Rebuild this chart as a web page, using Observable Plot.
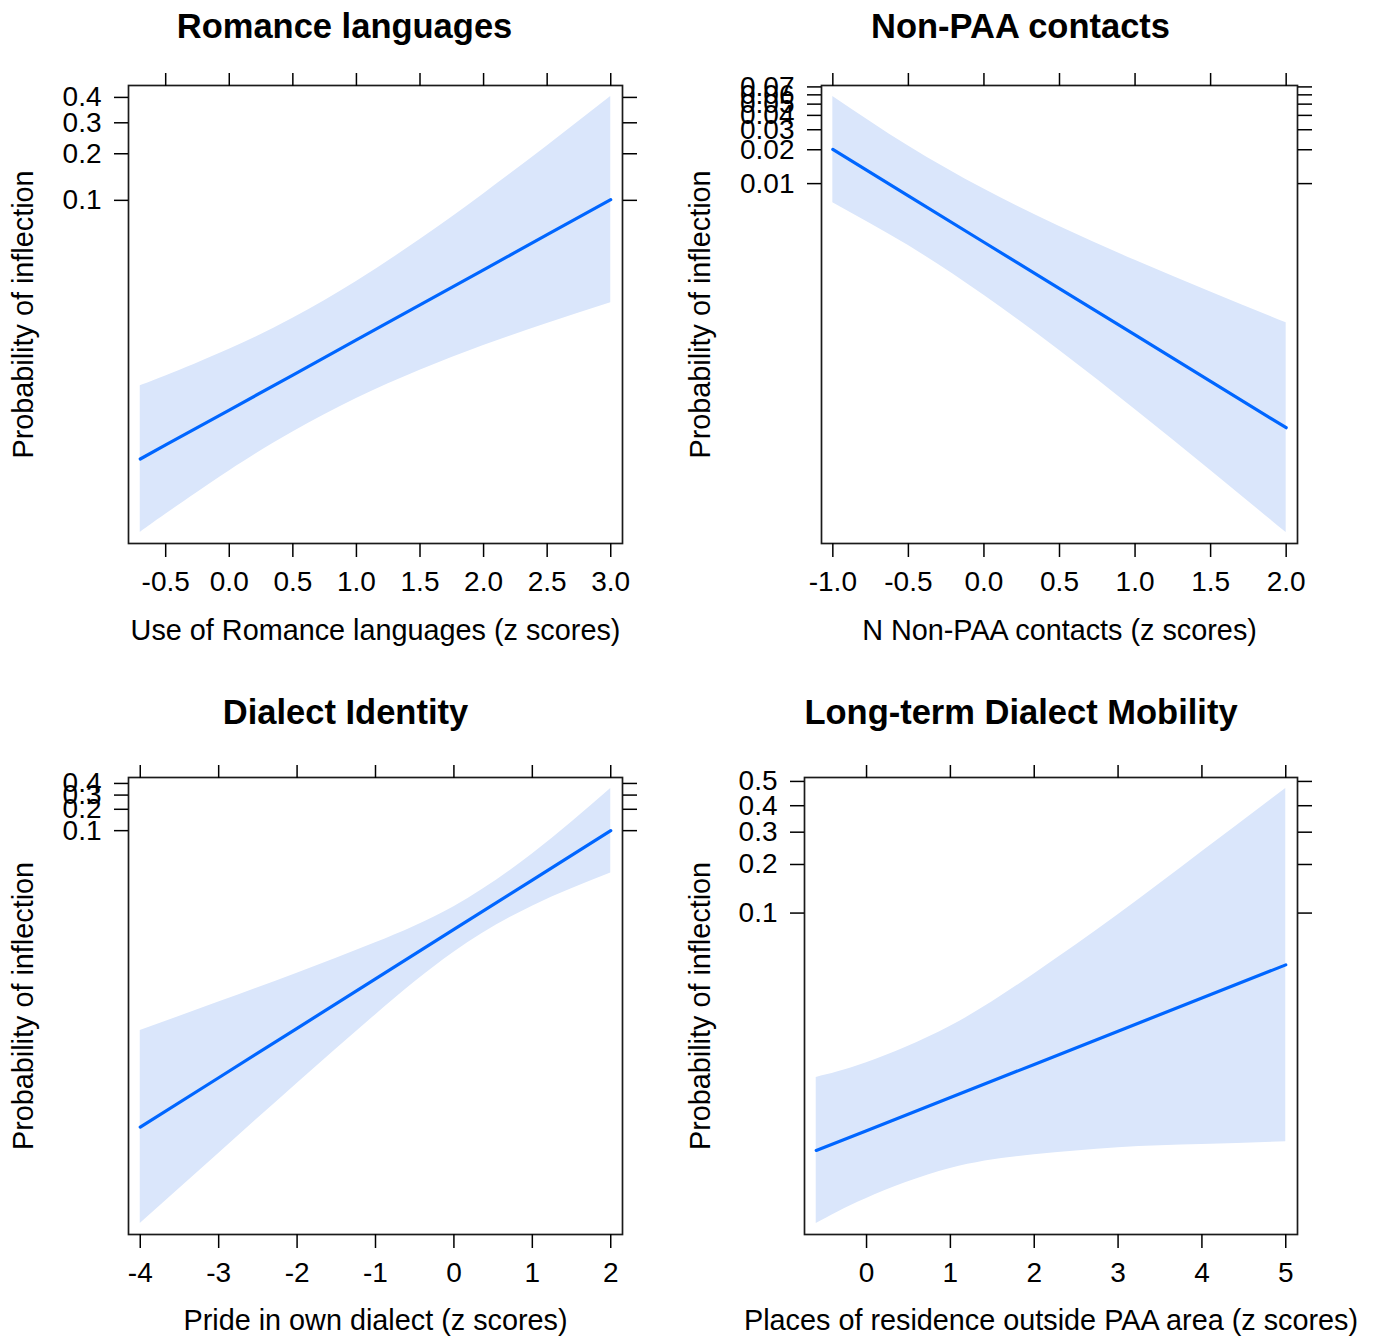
<!DOCTYPE html>
<html><head><meta charset="utf-8">
<script src="https://cdn.jsdelivr.net/npm/d3@7"></script>
<script src="https://cdn.jsdelivr.net/npm/@observablehq/plot@0.6"></script>
<style>
html,body{margin:0;padding:0;background:#fff;}
#chart{position:relative;width:1375px;height:1336px;overflow:hidden;font-family:"Liberation Sans",Arial,Helvetica,sans-serif;}
#chart svg{position:absolute;}
</style></head><body><div id="chart"></div>
<script>
// ---- text ----
const titles = ["Romance languages", "Non-PAA contacts", "Dialect Identity", "Long-term Dialect Mobility"];
const xLabels = ["Use of Romance languages (z scores)", "N Non-PAA contacts (z scores)", "Pride in own dialect (z scores)", "Places of residence outside PAA area (z scores)"];
const yLabel = "Probability of inflection";

// ---- panel 1: Romance languages ----
const romanceX     = [-0.7, -0.5, 0, 0.5, 1, 1.5, 2, 2.5, 3];
const romanceFit   = [0.00123, 0.00157, 0.00288, 0.00528, 0.00969, 0.0177, 0.0321, 0.0576, 0.1011];
const romanceUpper = [0.00439, 0.00519, 0.00824, 0.0141, 0.0264, 0.0532, 0.1105, 0.2227, 0.4042];
const romanceLower = [0.000342, 0.000470, 0.00100, 0.00197, 0.00352, 0.00574, 0.00879, 0.01287, 0.01832];
const romanceXTicks = [-0.5, 0, 0.5, 1, 1.5, 2, 2.5, 3];
const romanceXTickLabels = ["-0.5", "0.0", "0.5", "1.0", "1.5", "2.0", "2.5", "3.0"];
const romanceYTicks = [0.1, 0.2, 0.3, 0.4];
const romanceYTickLabels = ["0.1", "0.2", "0.3", "0.4"];

// ---- panel 2: Non-PAA contacts ----
const contactsX     = [-1, -0.5, 0, 0.5, 1, 1.5, 2];
const contactsFit   = [0.02012, 0.00778, 0.00298, 0.00114, 0.000436, 0.000166, 0.0000635];
const contactsUpper = [0.0582, 0.02157, 0.00894, 0.00412, 0.00205, 0.00106, 0.000561];
const contactsLower = [0.00676, 0.00278, 0.000992, 0.000315, 0.0000928, 0.0000261, 0.00000719];
const contactsXTicks = [-1, -0.5, 0, 0.5, 1, 1.5, 2];
const contactsXTickLabels = ["-1.0", "-0.5", "0.0", "0.5", "1.0", "1.5", "2.0"];
const contactsYTicks = [0.01, 0.02, 0.03, 0.04, 0.05, 0.06, 0.07];
const contactsYTickLabels = ["0.01", "0.02", "0.03", "0.04", "0.05", "0.06", "0.07"];

// ---- panel 3: Dialect Identity ----
const identityX     = [-4, -3, -2, -1, 0, 1, 2];
const identityFit   = [1.44e-6, 9.39e-6, 6.13e-5, 0.000400, 0.00261, 0.01675, 0.1];
const identityUpper = [5.62e-5, 0.000166, 0.000497, 0.00157, 0.00616, 0.0438, 0.356];
const identityLower = [3.70e-8, 5.32e-7, 7.56e-6, 0.000102, 0.00110, 0.00629, 0.02183];
const identityXTicks = [-4, -3, -2, -1, 0, 1, 2];
const identityXTickLabels = ["-4", "-3", "-2", "-1", "0", "1", "2"];
const identityYTicks = [0.1, 0.2, 0.3, 0.4];
const identityYTickLabels = ["0.1", "0.2", "0.3", "0.4"];

// ---- panel 4: Long-term Dialect Mobility ----
const mobilityX     = [-0.6, 0, 1, 2, 3, 4, 5];
const mobilityFit   = [0.00211, 0.00293, 0.00509, 0.00881, 0.01524, 0.0262, 0.0447];
const mobilityUpper = [0.00710, 0.00904, 0.01650, 0.0387, 0.0975, 0.236, 0.471];
const mobilityLower = [0.000623, 0.000948, 0.00156, 0.00196, 0.00221, 0.00233, 0.00244];
const mobilityXTicks = [0, 1, 2, 3, 4, 5];
const mobilityXTickLabels = ["0", "1", "2", "3", "4", "5"];
const mobilityYTicks = [0.1, 0.2, 0.3, 0.4, 0.5];
const mobilityYTickLabels = ["0.1", "0.2", "0.3", "0.4", "0.5"];

// ---- style ----
const FONT = '"Liberation Sans", Arial, Helvetica, sans-serif';
const LINE = "#0066ff";
const BAND = "#dae6fb";

const logit = p => Math.log(p / (1 - p));

const panels = [
  {title: titles[0], xLabel: xLabels[0], x: romanceX, fit: romanceFit, upper: romanceUpper, lower: romanceLower,
   xTicks: romanceXTicks, xTickLabels: romanceXTickLabels, yTicks: romanceYTicks, yTickLabels: romanceYTickLabels,
   L: {left: 0, top: 0, width: 688, height: 668, mL: 128, mR: 66, mT: 85, mB: 125, titleDx: -31, titleDy: -59, yLabDx: -105, xLabDy: 87}},
  {title: titles[1], xLabel: xLabels[1], x: contactsX, fit: contactsFit, upper: contactsUpper, lower: contactsLower,
   xTicks: contactsXTicks, xTickLabels: contactsXTickLabels, yTicks: contactsYTicks, yTickLabels: contactsYTickLabels,
   L: {left: 688, top: 0, width: 687, height: 668, mL: 133, mR: 78, mT: 85, mB: 125, titleDx: -39, titleDy: -59, yLabDx: -121, xLabDy: 87}},
  {title: titles[2], xLabel: xLabels[2], x: identityX, fit: identityFit, upper: identityUpper, lower: identityLower,
   xTicks: identityXTicks, xTickLabels: identityXTickLabels, yTicks: identityYTicks, yTickLabels: identityYTickLabels,
   L: {left: 0, top: 668, width: 688, height: 668, mL: 128, mR: 66, mT: 109, mB: 102, titleDx: -30, titleDy: -65, yLabDx: -105, xLabDy: 86}},
  {title: titles[3], xLabel: xLabels[3], x: mobilityX, fit: mobilityFit, upper: mobilityUpper, lower: mobilityLower,
   xTicks: mobilityXTicks, xTickLabels: mobilityXTickLabels, yTicks: mobilityYTicks, yTickLabels: mobilityYTickLabels,
   L: {left: 688, top: 668, width: 687, height: 668, mL: 116, mR: 78, mT: 109, mB: 102, titleDx: -30, titleDy: -65, yLabDx: -104, xLabDy: 86}}
];

const chart = document.getElementById("chart");

for (const pn of panels) {
  const L = pn.L;
  const rows = pn.x.map((x, i) => ({x, fit: logit(pn.fit[i]), lo: logit(pn.lower[i]), hi: logit(pn.upper[i])}));
  const xmin = d3.min(pn.x), xmax = d3.max(pn.x);
  const xpad = 0.025 * (xmax - xmin);
  const ymin = d3.min(rows, d => d.lo), ymax = d3.max(rows, d => d.hi);
  const ypad = 0.025 * (ymax - ymin);
  const yTickVals = pn.yTicks.map(logit);
  const yFmt = new Map(yTickVals.map((v, i) => [v, pn.yTickLabels[i]]));
  const xFmt = new Map(pn.xTicks.map((v, i) => [v, pn.xTickLabels[i]]));

  const svg = Plot.plot({
    width: L.width, height: L.height,
    marginLeft: L.mL, marginRight: L.mR, marginTop: L.mT, marginBottom: L.mB,
    style: {fontFamily: FONT, fontSize: "28px", background: "transparent", color: "#000", overflow: "visible"},
    x: {type: "linear", domain: [xmin - xpad, xmax + xpad]},
    y: {type: "linear", domain: [ymin - ypad, ymax + ypad]},
    marks: [
      Plot.areaY(rows, {x: "x", y1: "lo", y2: "hi", fill: BAND, curve: "natural"}),
      Plot.line(rows, {x: "x", y: "fit", stroke: LINE, strokeWidth: 3.2}),
      Plot.frame({stroke: "#1a1a1a", strokeWidth: 1.7}),
      Plot.axisX({anchor: "bottom", ticks: pn.xTicks, tickSize: 14, tickPadding: 14, tickFormat: v => xFmt.get(v), label: null, fontSize: 28, strokeWidth: 1.5}),
      Plot.axisX({anchor: "top", ticks: pn.xTicks, tickSize: 13, tickFormat: () => "", fill: "none", label: null, strokeWidth: 1.5}),
      Plot.axisY({anchor: "left", ticks: yTickVals, tickSize: 14, tickPadding: 13, tickFormat: v => yFmt.get(v), label: null, fontSize: 28, strokeWidth: 1.5}),
      Plot.axisY({anchor: "right", ticks: yTickVals, tickSize: 14, tickFormat: () => "", fill: "none", label: null, strokeWidth: 1.5}),
      Plot.text([pn.title], {text: d => d, frameAnchor: "top", lineAnchor: "middle", textAnchor: "middle", dx: L.titleDx, dy: L.titleDy, fontSize: 34.5, fontWeight: "bold", fill: "#000"}),
      Plot.text([pn.xLabel], {text: d => d, frameAnchor: "bottom", lineAnchor: "middle", textAnchor: "middle", dy: L.xLabDy, fontSize: 28.8, fill: "#000"}),
      Plot.text([yLabel], {text: d => d, frameAnchor: "left", lineAnchor: "middle", textAnchor: "middle", dx: L.yLabDx, rotate: -90, fontSize: 28.8, fill: "#000"})
    ]
  });
  svg.style.left = L.left + "px";
  svg.style.top = L.top + "px";
  chart.appendChild(svg);
}
</script>
</body></html>
